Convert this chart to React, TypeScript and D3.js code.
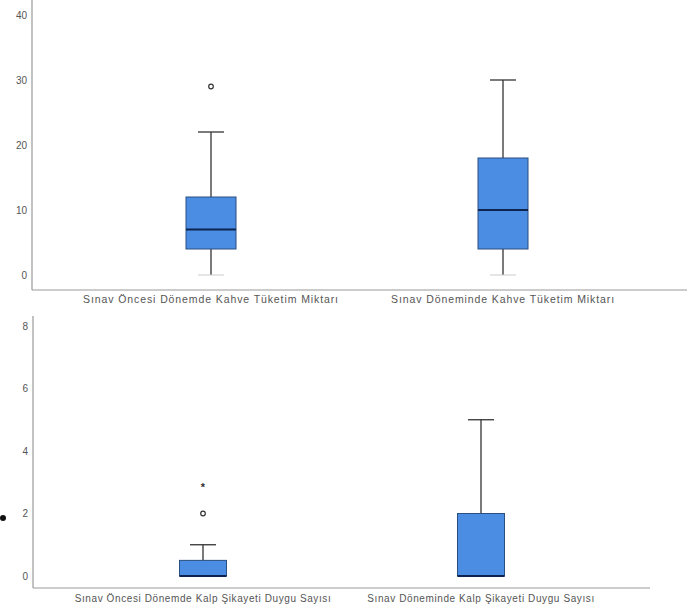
import React from "react";
import * as d3 from "d3";

const topCategories = ["Sınav Öncesi Dönemde Kahve Tüketim Miktarı", "Sınav Döneminde Kahve Tüketim Miktarı"];
const topMin = [0, 0];
const topQ1 = [4, 4];
const topMedian = [7, 10];
const topQ3 = [12, 18];
const topMax = [22, 30];
const topOutliers = [[29], []];
const topTicks = [0, 10, 20, 30, 40];

const botCategories = ["Sınav Öncesi Dönemde Kalp Şikayeti Duygu Sayısı", "Sınav Döneminde Kalp Şikayeti Duygu Sayısı"];
const botMin = [0, 0];
const botQ1 = [0, 0];
const botMedian = [0, 0];
const botQ3 = [0.5, 2];
const botMax = [1, 5];
const botOutliers = [[2], []];
const botExtremes = [[3], []];
const botTicks = [0, 2, 4, 6, 8];

const FILL = "#4a8de2";
const STROKE = "#2a4f80";
const TEXT = "#555";
const AXIS = "#9a9a9a";

type PanelProps = {
  cats: string[]; mins: number[]; q1: number[]; med: number[]; q3: number[]; maxs: number[];
  outs: number[][]; extremes?: number[][]; ticks: number[]; domainMax: number;
  yRange: [number, number]; xRange: [number, number]; axisX: number; axisTop: number; axisBottom: number; axisRight: number;
  boxW: number; labelY: number; labelSize: number; labelSpacing: number;
};

function Panel(p: PanelProps) {
  const y = d3.scaleLinear().domain([0, p.domainMax]).range(p.yRange);
  const x = d3.scaleBand<string>().domain(p.cats).range(p.xRange);
  const capW = 26;
  return (
    <g>
      <line x1={p.axisX} x2={p.axisX} y1={p.axisTop} y2={p.axisBottom} stroke={AXIS} strokeWidth={1.2} />
      <line x1={p.axisX} x2={p.axisRight} y1={p.axisBottom} y2={p.axisBottom} stroke={AXIS} strokeWidth={1.2} />
      {p.ticks.map((t) => (
        <text key={t} x={p.axisX - 5} y={y(t)} dy="0.35em" textAnchor="end" fontSize={10} fill={TEXT}
          fontFamily="Liberation Sans, Arial, sans-serif">{t}</text>
      ))}
      {p.cats.map((c, i) => {
        const cx = (x(c) as number) + x.bandwidth() / 2;
        return (
          <g key={c}>
            <line x1={cx} x2={cx} y1={y(p.maxs[i])} y2={y(p.q3[i])} stroke="#333" strokeWidth={1.3} />
            <line x1={cx} x2={cx} y1={y(p.q1[i])} y2={y(p.mins[i])} stroke="#333" strokeWidth={1.3} />
            <line x1={cx - capW / 2} x2={cx + capW / 2} y1={y(p.maxs[i])} y2={y(p.maxs[i])} stroke="#333" strokeWidth={1.3} />
            {p.mins[i] !== p.q1[i] && (
              <line x1={cx - capW / 2} x2={cx + capW / 2} y1={y(p.mins[i])} y2={y(p.mins[i])} stroke="#ccc" strokeWidth={1} />
            )}
            <rect x={cx - p.boxW / 2} y={y(p.q3[i])} width={p.boxW} height={y(p.q1[i]) - y(p.q3[i])}
              fill={FILL} stroke={STROKE} strokeWidth={1} />
            <line x1={cx - p.boxW / 2} x2={cx + p.boxW / 2} y1={y(p.med[i])} y2={y(p.med[i])} stroke="#0d2450" strokeWidth={2} />
            {p.outs[i].map((o, j) => (
              <circle key={j} cx={cx} cy={y(o)} r={2.3} fill="none" stroke="#333" strokeWidth={1.2} />
            ))}
            {(p.extremes ? p.extremes[i] : []).map((o, j) => (
              <text key={"e" + j} x={cx} y={y(o)} dy="0.75em" textAnchor="middle" fontSize={11} fontWeight="bold" fill="#333"
                fontFamily="Liberation Sans, Arial, sans-serif">*</text>
            ))}
            <text x={cx} y={p.labelY} textAnchor="middle" fontSize={p.labelSize} letterSpacing={p.labelSpacing} fill={TEXT}
              fontFamily="Liberation Sans, Arial, sans-serif">{c}</text>
          </g>
        );
      })}
    </g>
  );
}

export default function App() {
  return (
    <svg width={691} height={608} style={{ position: "absolute", left: 0, top: 0, background: "#fff" }}>
      <rect width={691} height={608} fill="#fff" />
      <Panel cats={topCategories} mins={topMin} q1={topQ1} med={topMedian} q3={topQ3} maxs={topMax}
        outs={topOutliers} ticks={topTicks} domainMax={40} yRange={[275, 15]} xRange={[65, 649]}
        axisX={32} axisTop={0} axisBottom={290} axisRight={687} boxW={50} labelY={303} labelSize={10.5} labelSpacing={0.9} />
      <Panel cats={botCategories} mins={botMin} q1={botQ1} med={botMedian} q3={botQ3} maxs={botMax}
        outs={botOutliers} extremes={botExtremes} ticks={botTicks} domainMax={8} yRange={[576, 326]} xRange={[64, 620]}
        axisX={33} axisTop={316} axisBottom={588} axisRight={650} boxW={47} labelY={602} labelSize={10} labelSpacing={0.6} />
      <circle cx={3} cy={518} r={3} fill="#111" />
    </svg>
  );
}
